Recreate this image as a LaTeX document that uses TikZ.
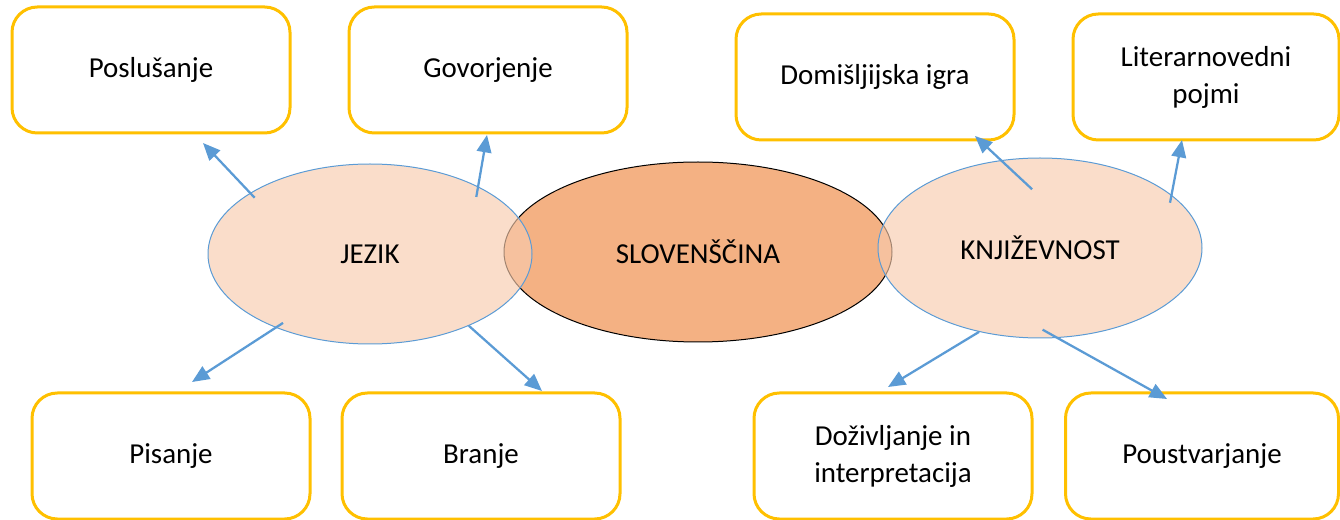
\documentclass[tikz,border=0pt]{standalone}
\usepackage{fontspec}
\setmainfont{Carlito}
\usetikzlibrary{arrows.meta,shapes.geometric}
\definecolor{boxline}{HTML}{FFC000}
\definecolor{ovalline}{HTML}{5B9BD5}
\definecolor{ovalfill}{HTML}{F8CBAD}
\definecolor{mainfill}{HTML}{F4B183}

\begin{document}
\begin{tikzpicture}[x=0.75pt, y=-0.75pt,
	every node/.style={font=\fontsize{21.7}{27.75}\selectfont, align=center},
	topic/.style={draw=boxline, line width=2.25pt, rounded corners=19pt, fill=white, minimum width=208.5pt, minimum height=94.5pt, inner sep=0pt},
	side/.style={draw=ovalline, line width=0.75pt, ellipse, fill=ovalfill, fill opacity=0.65, text opacity=1, minimum width=243pt, minimum height=135pt, inner sep=0pt},
	link/.style={draw=ovalline, line width=1.7pt, -{Triangle[length=13pt, width=11pt]}}]
	\useasboundingbox (0, 0) rectangle (1340, 520);
	\node (slo) [draw, line width=0.75pt, ellipse, fill=mainfill, minimum width=291pt, minimum height=135pt, inner sep=0pt] at (698, 252) {SLOVENŠČINA};
	\node (jezik) [side] at (370, 254) {JEZIK};
	\node (knj) [side] at (1040, 248) {KNJIŽEVNOST};
	\node (posl) [topic] at (151, 70) {Poslušanje};
	\node (govo) [topic] at (488, 70) {Govorjenje};
	\node (domi) [topic] at (875, 77) {Domišljijska igra};
	\node (lite) [topic, minimum width=199.5pt] at (1206, 77) {Literarnovedni\\pojmi};
	\node (pisa) [topic] at (171, 456) {Pisanje};
	\node (bran) [topic] at (481, 456) {Branje};
	\node (dozi) [topic] at (893, 456) {Doživljanje in\\interpretacija};
	\node (pous) [topic, minimum width=204.75pt] at (1202, 456) {Poustvarjanje};
	\coordinate (posl-in) at (203, 143);
	\coordinate (govo-in) at (487, 135);
	\coordinate (pisa-in) at (192, 382);
	\coordinate (bran-in) at (542, 391);
	\coordinate (domi-in) at (975, 136);
	\coordinate (lite-in) at (1182, 140);
	\coordinate (dozi-in) at (888, 387);
	\coordinate (pous-in) at (1167, 399);
	\draw[link, shorten <=-5pt] (jezik.153) -- (posl-in);
	\draw[link, shorten <=-8pt] (jezik.32) -- (govo-in);
	\draw[link, shorten <=-6.6pt] (jezik.218.6) -- (pisa-in);
	\draw[link] (jezik.324) -- (bran-in);
	\draw[link, shorten <=-32pt] (knj.114.8) -- (domi-in);
	\draw[link, shorten <=-6pt] (knj.22.8) -- (lite-in);
	\draw[link] (knj.234) -- (dozi-in);
	\draw[link, shorten <=-12.8pt] (knj.281.4) -- (pous-in);
\end{tikzpicture}
\end{document}
